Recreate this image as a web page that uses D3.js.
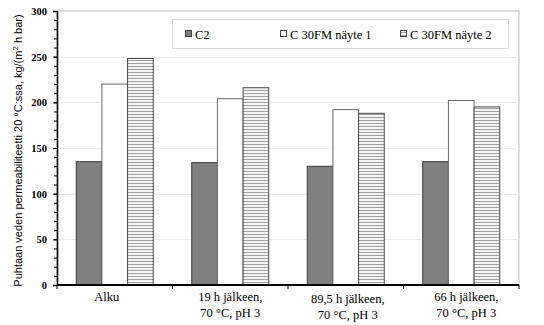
<!DOCTYPE html>
<html>
<head>
<meta charset="utf-8">
<script src="https://cdn.jsdelivr.net/npm/d3@7"></script>
<style>
  html, body { margin: 0; padding: 0; background: #fff; }
  svg { display: block; }
</style>
</head>
<body>
<svg id="chart" width="544" height="325"></svg>
<script>
// Pure water permeability at 20 °C, per membrane sample and treatment stage
const categories = [
  ["Alku"],
  ["19 h jälkeen,", "70 °C, pH 3"],
  ["89,5 h jälkeen,", "70 °C, pH 3"],
  ["66 h jälkeen,", "70 °C, pH 3"]
];
const seriesNames = ["C2", "C 30FM näyte 1", "C 30FM näyte 2"];
const c2Values = [135, 134, 130, 135];
const sample1Values = [220, 204, 192, 202];
const sample2Values = [248, 216, 188, 195];
const yTicks = [0, 50, 100, 150, 200, 250, 300];

const seriesValues = [c2Values, sample1Values, sample2Values];

const svg = d3.select("#chart");
const margin = { left: 57, right: 25, top: 11, bottom: 40 };
const W = 544, H = 325;
const plotW = W - margin.left - margin.right;
const plotH = H - margin.top - margin.bottom;

// hatched fill for the second sample
const defs = svg.append("defs");
const pat = defs.append("pattern")
  .attr("id", "hstripe")
  .attr("patternUnits", "userSpaceOnUse")
  .attr("width", 6).attr("height", 3);
pat.append("rect").attr("width", 6).attr("height", 3).attr("fill", "#f4f4f4");
pat.append("rect").attr("y", 1).attr("width", 6).attr("height", 1).attr("fill", "#a0a0a0");

const g = svg.append("g").attr("transform", `translate(${margin.left},${margin.top})`);

const x0 = d3.scaleBand().domain(d3.range(categories.length)).range([0, plotW]).paddingInner(0).paddingOuter(0);
const x1 = d3.scaleBand().domain(d3.range(seriesNames.length)).range([0, x0.bandwidth()]).paddingOuter(0.75).paddingInner(0);
const y = d3.scaleLinear().domain([0, 300]).range([plotH, 0]);

// plot area frame
g.append("rect").attr("x", 0).attr("y", 0).attr("width", plotW).attr("height", plotH)
  .attr("fill", "#fff").attr("stroke", "#bdbdbd").attr("stroke-width", 1);

// horizontal gridlines
g.append("g").selectAll("line").data(yTicks.filter(d => d > 0 && d < 300)).join("line")
  .attr("x1", 0).attr("x2", plotW)
  .attr("y1", d => Math.round(y(d)) + 0.5).attr("y2", d => Math.round(y(d)) + 0.5)
  .attr("stroke", "#ececec").attr("stroke-width", 1);

const fills = ["#808080", "#ffffff", "url(#hstripe)"];
const strokes = ["#3a3a3a", "#6a6a6a", "#4a4a4a"];

const groups = g.append("g").selectAll("g").data(categories).join("g")
  .attr("transform", (d, i) => `translate(${x0(i)},0)`);

groups.selectAll("rect").data((d, i) => seriesValues.map((vals, s) => ({ s, v: vals[i] }))).join("rect")
  .attr("x", d => x1(d.s))
  .attr("width", x1.bandwidth())
  .attr("y", d => y(d.v))
  .attr("height", d => y(0) - y(d.v))
  .attr("fill", d => fills[d.s])
  .attr("stroke", d => strokes[d.s])
  .attr("stroke-width", 1);

// y axis with minor ticks every 10
const yAxis = d3.axisLeft(y).tickValues(yTicks).tickSize(4).tickPadding(6).tickFormat(d3.format("d"));
const yAx = g.append("g").call(yAxis);
yAx.select(".domain").attr("stroke", "#000").attr("stroke-width", 1.5);
yAx.selectAll(".tick line").attr("stroke", "#000");
yAx.selectAll("text")
  .attr("font-family", "'Liberation Serif', 'Times New Roman', serif")
  .attr("font-weight", "bold").attr("font-size", 10.5).attr("fill", "#000");
g.append("g").call(d3.axisLeft(y).tickValues(d3.range(0, 301, 10)).tickSize(3).tickFormat(""))
  .call(a => a.select(".domain").remove())
  .selectAll("line").attr("stroke", "#000");

// x axis: category boundary ticks
const xAx = g.append("g").attr("transform", `translate(0,${plotH})`);
xAx.append("line").attr("x1", 0).attr("x2", plotW).attr("y1", 0).attr("y2", 0)
  .attr("stroke", "#000").attr("stroke-width", 2);
xAx.selectAll("line.tk").data(d3.range(categories.length + 1)).join("line").attr("class", "tk")
  .attr("x1", d => d * x0.bandwidth()).attr("x2", d => d * x0.bandwidth())
  .attr("y1", 0).attr("y2", 4).attr("stroke", "#000");

// category labels
const labelNudge = [-8, 0, 2, 5];
const labelDrop = [0, 0, 2, 0];
xAx.selectAll("text.cat").data(categories).join("text").attr("class", "cat")
  .attr("font-family", "'Liberation Serif', 'Times New Roman', serif")
  .attr("font-size", 12.5).attr("fill", "#000").attr("text-anchor", "middle")
  .attr("transform", (d, i) => `translate(${x0(i) + x0.bandwidth() / 2 + labelNudge[i]},${16 + labelDrop[i]})`)
  .selectAll("tspan").data(d => d).join("tspan")
  .attr("x", 0).attr("dy", (d, j) => j === 0 ? 0 : 15.5).text(d => d);

// y axis title
const yTitle = svg.append("text")
  .attr("transform", "translate(22,150.5) rotate(-90)")
  .attr("text-anchor", "middle")
  .attr("font-family", "'Liberation Sans', Arial, sans-serif")
  .attr("font-size", 11).attr("fill", "#000");
yTitle.append("tspan").text("Puhtaan veden permeabiliteetti 20 °C:ssa, kg/(m");
yTitle.append("tspan").attr("dy", -4).attr("font-size", 8).text("2");
yTitle.append("tspan").attr("dy", 4).text(" h bar)");

// legend
const leg = svg.append("g");
leg.append("rect").attr("x", 172.5).attr("y", 19.5).attr("width", 336).attr("height", 29)
  .attr("fill", "#fff").attr("stroke", "#dcdcdc");
const legX = [185, 280, 400];
const li = leg.selectAll("g.item").data(seriesNames).join("g").attr("class", "item")
  .attr("transform", (d, i) => `translate(${legX[i]},34)`);
li.append("rect").attr("x", 0.5).attr("y", -3.5).attr("width", 6).attr("height", 6)
  .attr("fill", (d, i) => fills[i]).attr("stroke", "#444");
li.append("text").attr("x", 10).attr("y", 4.5)
  .attr("font-family", "'Liberation Serif', 'Times New Roman', serif")
  .attr("font-size", 12.5).attr("fill", "#000").text(d => d);
</script>
</body>
</html>
